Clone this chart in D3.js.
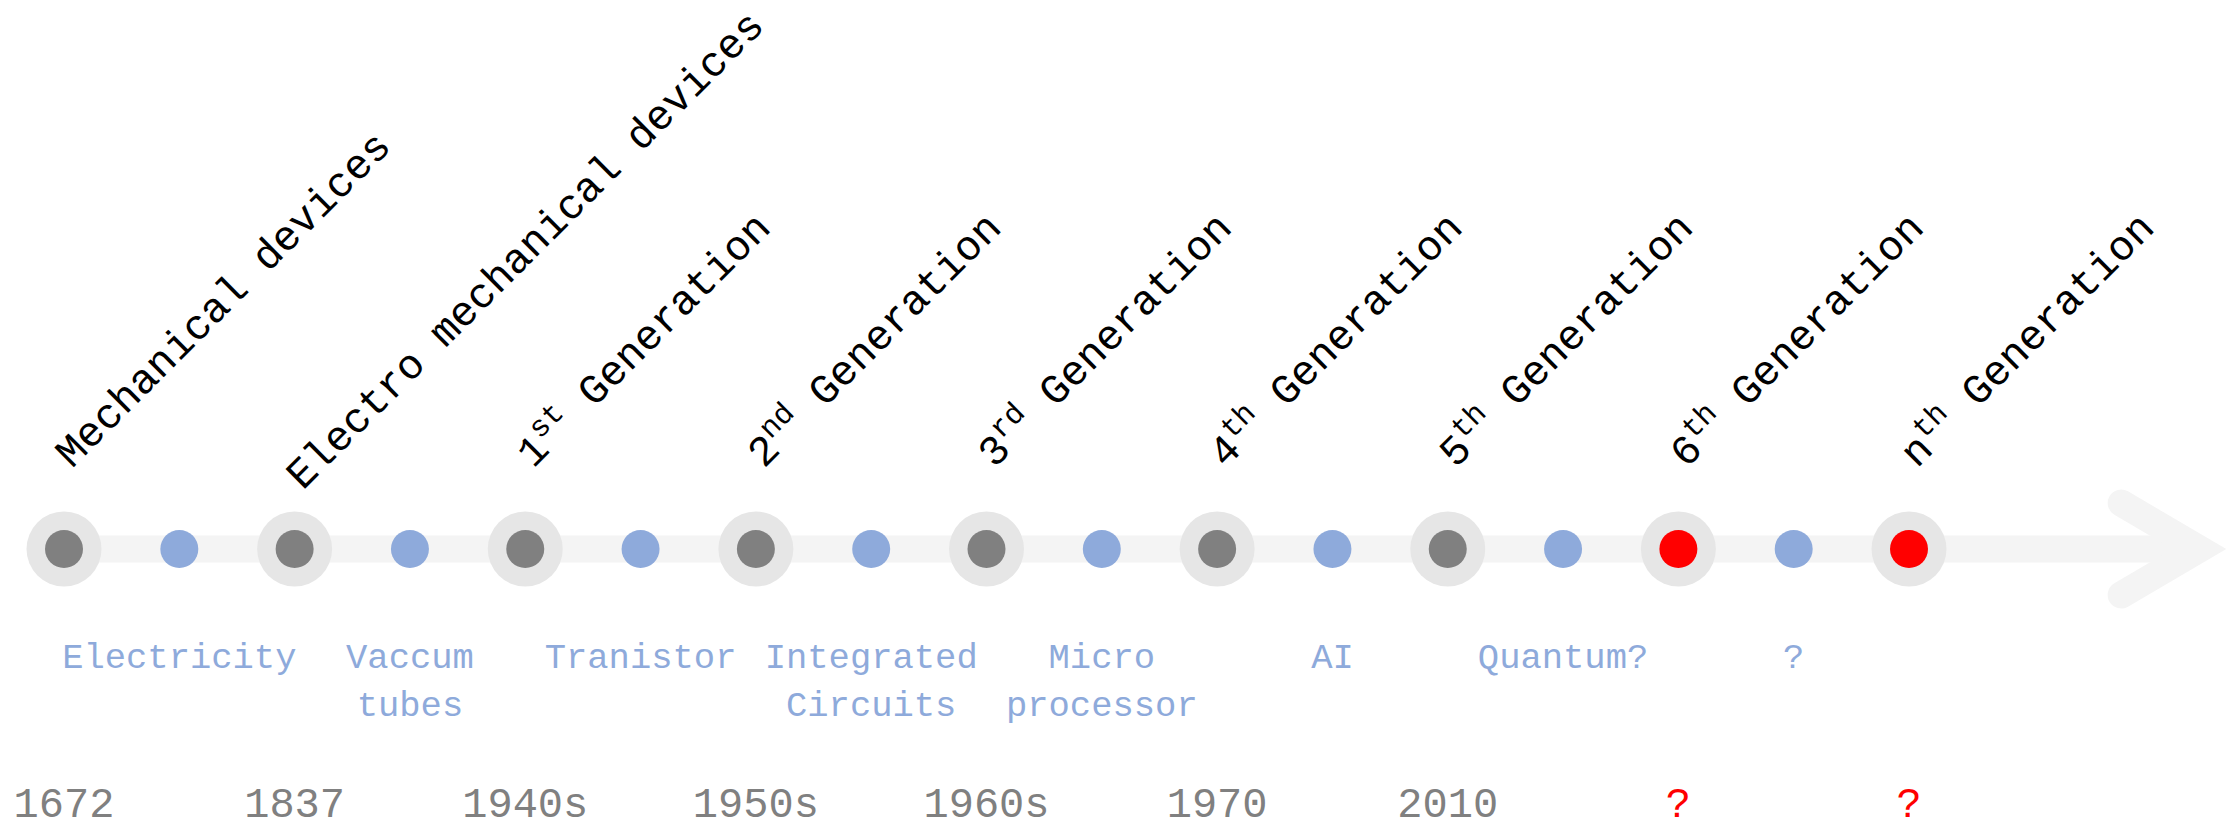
<!DOCTYPE html>
<html>
<head>
<meta charset="utf-8">
<script src="https://cdn.jsdelivr.net/npm/d3@7"></script>
<style>
  body { margin: 0; background: #fff; }
  text { font-family: "Liberation Mono", "DejaVu Sans Mono", monospace; white-space: pre; }
</style>
</head>
<body>
<div id="chart"></div>
<script>
// eras on the timeline; "^" marks a superscript run
const eras = [
  "Mechanical devices",
  "Electro mechanical devices",
  "1^st Generation",
  "2^nd Generation",
  "3^rd Generation",
  "4^th Generation",
  "5^th Generation",
  "6^th Generation",
  "n^th Generation",
];
const eraYears = ["1672", "1837", "1940s", "1950s", "1960s", "1970", "2010", "?", "?"];
const eraUnknown = [false, false, false, false, false, false, false, true, true];

// technologies between eras
const techs = [
  ["Electricity"],
  ["Vaccum", "tubes"],
  ["Tranistor"],
  ["Integrated", "Circuits"],
  ["Micro", "processor"],
  ["AI"],
  ["Quantum?"],
  ["?"],
];

const width = 2229;
const height = 829;
const lineY = 549;
const labelSize = 42;

const blue = "#8eaadb";
const gray = "#808080";

const x = d3
  .scalePoint()
  .domain(d3.range(eras.length + techs.length))
  .range([64, 1909]);
const step = x.step();

const svg = d3
  .select("#chart")
  .append("svg")
  .attr("width", width)
  .attr("height", height)
  .attr("viewBox", [0, 0, width, height]);

// track + arrow head
const tipX = x(eras.length * 2 - 2) + step * 2.52;
svg
  .append("line")
  .attr("x1", x(0))
  .attr("x2", tipX)
  .attr("y1", lineY)
  .attr("y2", lineY)
  .attr("stroke", "#f4f4f4")
  .attr("stroke-width", 27);
svg
  .append("path")
  .attr(
    "d",
    d3.line()([
      [tipX - step * 0.68, lineY - 46],
      [tipX, lineY],
      [tipX - step * 0.68, lineY + 46],
    ])
  )
  .attr("fill", "none")
  .attr("stroke", "#f4f4f4")
  .attr("stroke-width", 27)
  .attr("stroke-linecap", "round")
  .attr("stroke-linejoin", "miter");

// era markers
const era = svg
  .append("g")
  .selectAll("g")
  .data(eras)
  .join("g")
  .attr("transform", (d, i) => `translate(${x(i * 2)},${lineY})`);
era.append("circle").attr("r", 37.5).attr("fill", "#e6e6e6");
era
  .append("circle")
  .attr("r", 19)
  .attr("fill", (d, i) => (eraUnknown[i] ? "#ff0000" : gray));

// tech markers
svg
  .append("g")
  .selectAll("circle")
  .data(techs)
  .join("circle")
  .attr("cx", (d, i) => x(i * 2 + 1))
  .attr("cy", lineY)
  .attr("r", 19)
  .attr("fill", blue);

// rotated era labels, pushed down when a long one would leave the frame
function labelY(d) {
  const len = d.replace("^", "").length * 0.6 * labelSize;
  return Math.max(469, 12 + len * Math.SQRT1_2 + 0.375 * labelSize);
}
const eraLabel = svg
  .append("g")
  .selectAll("text")
  .data(eras)
  .join("text")
  .attr("transform", (d, i) => `translate(${x(i * 2) + 8},${labelY(d)}) rotate(-45)`)
  .attr("font-size", labelSize)
  .attr("fill", "#000");
eraLabel.each(function (d) {
  const t = d3.select(this);
  const m = d.match(/^([^^]*)\^(\S+)(.*)$/);
  if (!m) {
    t.text(d);
    return;
  }
  t.append("tspan").text(m[1]);
  t.append("tspan").attr("font-size", 30).attr("dy", -16).text(m[2]);
  t.append("tspan").attr("dy", 16).text(m[3]);
});

// tech labels
svg
  .append("g")
  .selectAll("text")
  .data(techs)
  .join("text")
  .attr("text-anchor", "middle")
  .attr("font-size", 35.5)
  .attr("fill", blue)
  .attr("transform", (d, i) => `translate(${x(i * 2 + 1)},668)`)
  .selectAll("tspan")
  .data((d) => d)
  .join("tspan")
  .attr("x", 0)
  .attr("y", (d, i) => i * 47.5)
  .text((d) => d);

// years
svg
  .append("g")
  .selectAll("text")
  .data(eraYears)
  .join("text")
  .attr("x", (d, i) => x(i * 2))
  .attr("y", 817)
  .attr("text-anchor", "middle")
  .attr("font-size", 42)
  .attr("fill", (d, i) => (eraUnknown[i] ? "#ff0000" : gray))
  .text((d) => d);
</script>
</body>
</html>
